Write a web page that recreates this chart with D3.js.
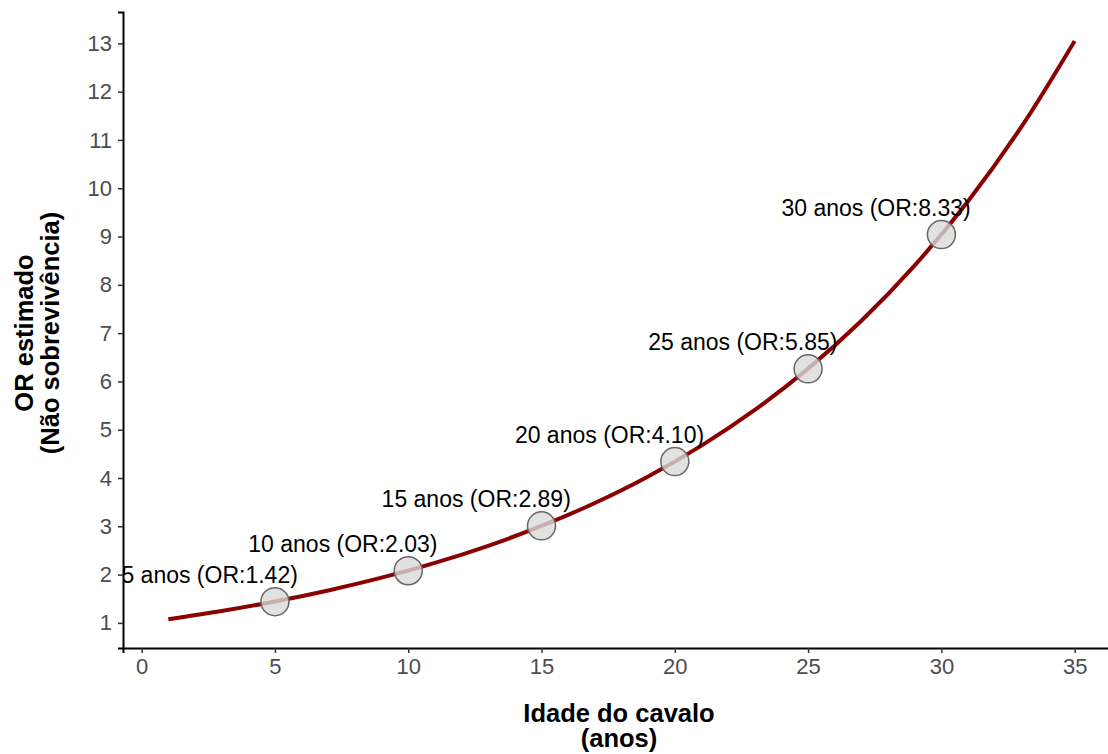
<!DOCTYPE html>
<html>
<head>
<meta charset="utf-8">
<script src="https://cdn.jsdelivr.net/npm/d3@7"></script>
<style>
  body { margin: 0; background: #fff; }
  svg { display: block; font-family: "Liberation Sans", Arial, sans-serif; }
</style>
</head>
<body>
<div id="chart"></div>
<script>
// curve of estimated OR read off the picture
const curveAges = [1, 3, 5, 7, 9, 11, 13, 15, 17, 19, 21, 23, 25, 27, 29, 31, 33, 35];
const curveOR = [1.076, 1.246, 1.443, 1.672, 1.936, 2.242, 2.597, 3.007, 3.483, 4.033, 4.671, 5.41, 6.265, 7.256, 8.403, 9.733, 11.27, 13.05];

// highlighted ages
const pointAges = [5, 10, 15, 20, 25, 30];
const pointOR = [1.44, 2.08, 3.01, 4.34, 6.26, 9.04];
const pointLabels = ["5 anos (OR:1.42)", "10 anos (OR:2.03)", "15 anos (OR:2.89)",
  "20 anos (OR:4.10)", "25 anos (OR:5.85)", "30 anos (OR:8.33)"];

const xTicks = [0, 5, 10, 15, 20, 25, 30, 35];
const yTicks = [1, 2, 3, 4, 5, 6, 7, 8, 9, 10, 11, 12, 13];

function drawChart() {
  const W = 1108, H = 754;
  const panelBox = { left: 123, right: 1120, top: 12, bottom: 648 };

  const svg = d3.select("#chart").append("svg")
    .attr("width", W)
    .attr("height", H);

  const x = d3.scaleLinear().domain([-0.7, 36.7]).range([panelBox.left, panelBox.right]);
  const y = d3.scaleLinear().domain([0.48, 13.65]).range([panelBox.bottom, panelBox.top]);

  // clip to panel
  svg.append("clipPath").attr("id", "panel")
    .append("rect")
    .attr("x", panelBox.left).attr("y", panelBox.top)
    .attr("width", panelBox.right - panelBox.left)
    .attr("height", panelBox.bottom - panelBox.top);

  const panel = svg.append("g").attr("clip-path", "url(#panel)");

  // fitted curve
  const curve = curveAges.map((a, i) => [a, curveOR[i]]);
  panel.append("path")
    .datum(curve)
    .attr("fill", "none")
    .attr("stroke", "#8b0000")
    .attr("stroke-width", 4)
    .attr("d", d3.line().x(d => x(d[0])).y(d => y(d[1])).curve(d3.curveCatmullRom));

  // points
  const pts = pointAges.map((a, i) => ({ age: a, or: pointOR[i], label: pointLabels[i] }));
  panel.selectAll("circle")
    .data(pts)
    .join("circle")
    .attr("cx", d => x(d.age))
    .attr("cy", d => y(d.or))
    .attr("r", 14)
    .attr("fill", "#d9d9d9")
    .attr("fill-opacity", 0.8)
    .attr("stroke", "#666")
    .attr("stroke-width", 1.5);

  // labels (shifted left of the points)
  panel.selectAll("text.lbl")
    .data(pts)
    .join("text")
    .attr("class", "lbl")
    .attr("x", d => x(d.age - 2.45))
    .attr("y", d => y(d.or) - 27)
    .attr("dy", "0.35em")
    .attr("text-anchor", "middle")
    .style("font-size", "23px")
    .style("fill", "#000")
    .text(d => d.label);

  // axes
  const xAxis = svg.append("g")
    .attr("transform", `translate(0,${panelBox.bottom})`)
    .call(d3.axisBottom(x).tickValues(xTicks).tickSize(5).tickPadding(5).tickFormat(d3.format("d")));
  const yAxis = svg.append("g")
    .attr("transform", `translate(${panelBox.left},0)`)
    .call(d3.axisLeft(y).tickValues(yTicks).tickSize(5).tickPadding(6).tickFormat(d3.format("d")));

  [xAxis, yAxis].forEach(ax => {
    ax.select(".domain").attr("stroke", "#000").attr("stroke-width", 2);
    ax.selectAll(".tick line").attr("stroke", "#333").attr("stroke-width", 1.5);
    ax.selectAll(".tick text")
      .style("font-size", "22px")
      .style("font-family", "Liberation Sans, Arial, sans-serif")
      .attr("fill", "#4d4d4d");
  });

  // axis titles
  const xTitle = svg.append("text")
    .attr("x", 619)
    .attr("y", 722)
    .attr("text-anchor", "middle")
    .style("font-size", "25.5px")
    .style("font-weight", "bold");
  xTitle.append("tspan").attr("x", 619).text("Idade do cavalo");
  xTitle.append("tspan").attr("x", 619).attr("dy", 25).text("(anos)");

  const yTitle = svg.append("text")
    .attr("transform", "translate(33,333) rotate(-90)")
    .attr("text-anchor", "middle")
    .style("font-size", "25.5px")
    .style("font-weight", "bold");
  yTitle.append("tspan").attr("x", 0).attr("y", 0).text("OR estimado");
  yTitle.append("tspan").attr("x", 0).attr("dy", 26).text("(Não sobrevivência)");
}

drawChart();
</script>
</body>
</html>
